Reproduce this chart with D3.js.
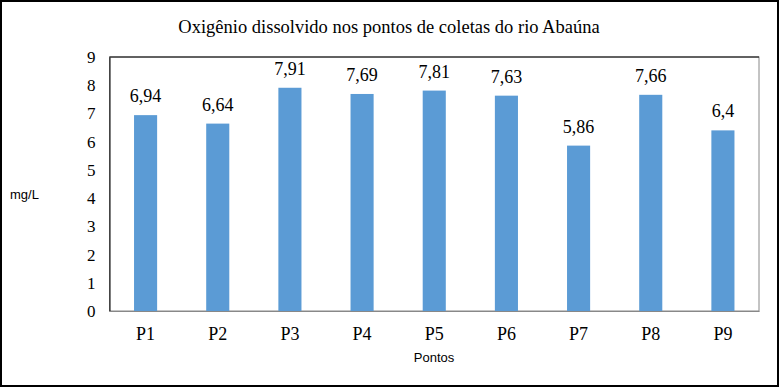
<!DOCTYPE html>
<html>
<head>
<meta charset="utf-8">
<script src="https://cdn.jsdelivr.net/npm/d3@7"></script>
<style>
  body { margin: 0; background: #fff; }
</style>
</head>
<body>
<div id="chart"></div>
<script>
const categories = ['P1', 'P2', 'P3', 'P4', 'P5', 'P6', 'P7', 'P8', 'P9']
const values = [6.94, 6.64, 7.91, 7.69, 7.81, 7.63, 5.86, 7.66, 6.4]
const labels = ['6,94', '6,64', '7,91', '7,69', '7,81', '7,63', '5,86', '7,66', '6,4']
const yTicks = [0, 1, 2, 3, 4, 5, 6, 7, 8, 9]

const fullWidth = 783, fullHeight = 389
const margin = { top: 57, right: 24, bottom: 78, left: 109.5 }
const width = fullWidth - margin.left - margin.right
const height = fullHeight - margin.top - margin.bottom

const root = d3.select('#chart')
  .append('svg')
    .attr('width', fullWidth)
    .attr('height', fullHeight)

// outer frame
root.append('rect')
  .attr('x', 1).attr('y', 1)
  .attr('width', 777).attr('height', 385)
  .attr('fill', 'none')
  .attr('stroke', '#000')
  .attr('stroke-width', 2)

root.append('text')
  .attr('x', 389).attr('y', 33)
  .attr('text-anchor', 'middle')
  .style('font-family', '"Liberation Serif", serif')
  .style('font-size', '18.5px')
  .text('Oxigênio dissolvido nos pontos de coletas do rio Abaúna')

const svg = root.append('g')
  .attr('transform', `translate(${margin.left}, ${margin.top})`)

const xScale = d3.scaleBand()
  .domain(categories)
  .range([0, width])
  .paddingInner(0.68)
  .paddingOuter(0.34)

const yScale = d3.scaleLinear()
  .domain([0, 9])
  .range([height, 0])

// plot frame
svg.append('rect')
  .attr('width', width).attr('height', height)
  .attr('fill', 'none')
  .attr('stroke', '#888')
  .attr('stroke-width', 1)
svg.append('line')
  .attr('x1', 0).attr('x2', width)
  .attr('stroke', '#000')

svg.selectAll('.bar')
  .data(values)
  .enter()
  .append('rect')
  .attr('class', 'bar')
  .attr('x', (d, i) => xScale(categories[i]))
  .attr('y', d => yScale(d))
  .attr('width', xScale.bandwidth())
  .attr('height', d => height - yScale(d))
  .style('fill', '#5B9BD5')

svg.selectAll('.val')
  .data(values)
  .enter()
  .append('text')
  .attr('class', 'val')
  .attr('x', (d, i) => xScale(categories[i]) + xScale.bandwidth() / 2)
  .attr('y', d => yScale(d) - 13)
  .attr('text-anchor', 'middle')
  .style('font-family', '"Liberation Serif", serif')
  .style('font-size', '18px')
  .text((d, i) => labels[i])

const yAxis = svg.append('g')
  .call(d3.axisLeft(yScale).tickValues(yTicks).tickSize(0).tickPadding(14))
yAxis.select('.domain').attr('stroke', '#000')
yAxis.selectAll('text')
  .style('font-family', '"Liberation Serif", serif')
  .style('font-size', '17px')

const xAxis = svg.append('g')
  .attr('transform', `translate(0, ${height})`)
  .call(d3.axisBottom(xScale).tickSize(0).tickPadding(16))
xAxis.select('.domain').attr('stroke', '#888')
xAxis.selectAll('text')
  .style('font-family', '"Liberation Serif", serif')
  .style('font-size', '18px')

root.append('text')
  .attr('x', 434).attr('y', 362)
  .attr('text-anchor', 'middle')
  .style('font-family', '"Liberation Sans", Arial, sans-serif')
  .style('font-size', '13px')
  .text('Pontos')

root.append('text')
  .attr('x', 10).attr('y', 199)
  .style('font-family', '"Liberation Sans", Arial, sans-serif')
  .style('font-size', '13px')
  .text('mg/L')
</script>
</body>
</html>
